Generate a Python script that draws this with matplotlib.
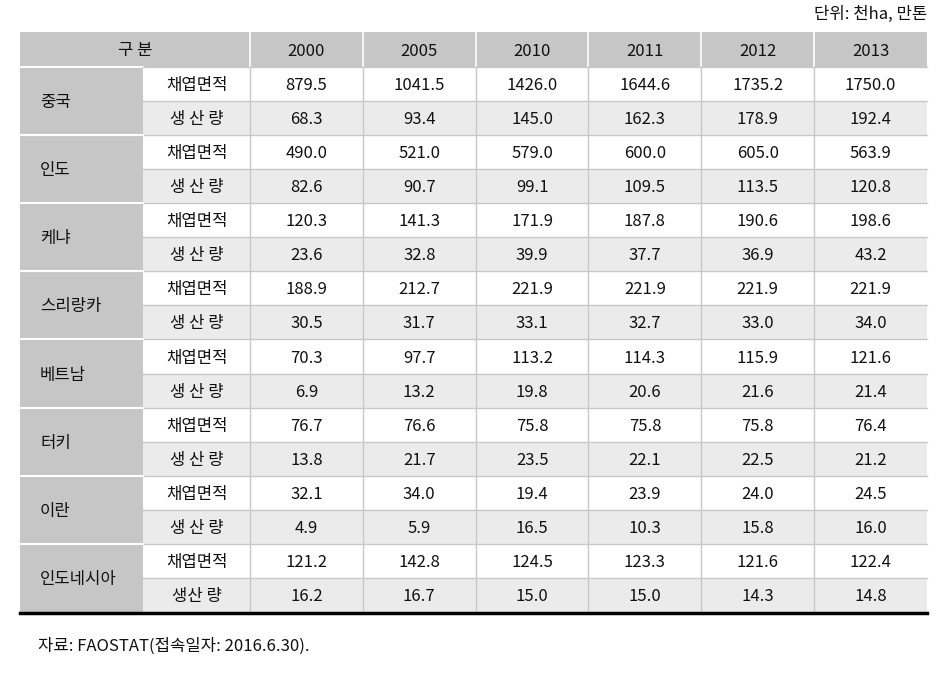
import matplotlib
matplotlib.use("Agg")
import matplotlib.pyplot as plt
from matplotlib.patches import Rectangle

plt.rcParams['font.family'] = ['Noto Sans CJK KR', 'DejaVu Sans']

years = ["2000", "2005", "2010", "2011", "2012", "2013"]
countries = ["중국", "인도", "케냐", "스리랑카", "베트남", "터키", "이란", "인도네시아"]
row_labels = ["채엽면적", "생 산 량"]
last_prod_label = "생산 량"

area = [
    [879.5, 1041.5, 1426.0, 1644.6, 1735.2, 1750.0],
    [490.0, 521.0, 579.0, 600.0, 605.0, 563.9],
    [120.3, 141.3, 171.9, 187.8, 190.6, 198.6],
    [188.9, 212.7, 221.9, 221.9, 221.9, 221.9],
    [70.3, 97.7, 113.2, 114.3, 115.9, 121.6],
    [76.7, 76.6, 75.8, 75.8, 75.8, 76.4],
    [32.1, 34.0, 19.4, 23.9, 24.0, 24.5],
    [121.2, 142.8, 124.5, 123.3, 121.6, 122.4],
]
production = [
    [68.3, 93.4, 145.0, 162.3, 178.9, 192.4],
    [82.6, 90.7, 99.1, 109.5, 113.5, 120.8],
    [23.6, 32.8, 39.9, 37.7, 36.9, 43.2],
    [30.5, 31.7, 33.1, 32.7, 33.0, 34.0],
    [6.9, 13.2, 19.8, 20.6, 21.6, 21.4],
    [13.8, 21.7, 23.5, 22.1, 22.5, 21.2],
    [4.9, 5.9, 16.5, 10.3, 15.8, 16.0],
    [16.2, 16.7, 15.0, 15.0, 14.3, 14.8],
]

unit_text = "단위: 천ha, 만톤"
source_text = "자료: FAOSTAT(접속일자: 2016.6.30)."

# layout in pixel units
W, H = 949, 688
left, col1, col2, right = 20, 143.5, 250, 927
top, head_h, row_h = 32, 35, 34.06
head_bottom = top + head_h
n_rows = 2 * len(countries)
bottom = head_bottom + n_rows * row_h
year_w = (right - col2) / len(years)

header_gray = "#c6c6c6"
alt_gray = "#ebebeb"
line_gray = "#c8c8c8"
fs = 12
dy = 1.5  # nudge text down a bit, CJK font sits high

fig = plt.figure(figsize=(W / 100, H / 100), dpi=100)
ax = fig.add_axes([0, 0, 1, 1])
ax.set_xlim(0, W)
ax.set_ylim(H, 0)
ax.axis("off")

def cell_text(x, y, s, ha="center"):
    ax.text(x, y + dy, s, ha=ha, va="center", fontsize=fs, color="#111111")

# header
ax.add_patch(Rectangle((left, top), right - left, head_h, color=header_gray, lw=0))
cell_text((left + col2) / 2, top + head_h / 2, "구 분")
for j, y in enumerate(years):
    x0 = col2 + j * year_w
    cell_text(x0 + year_w / 2, top + head_h / 2, y)
    if j > 0:
        ax.plot([x0, x0], [top, head_bottom], color="white", lw=1.2)
ax.plot([col2, col2], [top, head_bottom], color="white", lw=1.2)

# body
for i, country in enumerate(countries):
    g0 = head_bottom + 2 * i * row_h
    ax.add_patch(Rectangle((left, g0), col1 - left, 2 * row_h, color=header_gray, lw=0))
    cell_text(left + 20, g0 + row_h, country, ha="left")
    for k, vals in enumerate([area[i], production[i]]):
        r0 = g0 + k * row_h
        bg = "white" if k == 0 else alt_gray
        ax.add_patch(Rectangle((col1, r0), right - col1, row_h, color=bg, lw=0))
        label = row_labels[k]
        if k == 1 and i == len(countries) - 1:
            label = last_prod_label
        cell_text((col1 + col2) / 2, r0 + row_h / 2, label)
        for j, v in enumerate(vals):
            x0 = col2 + j * year_w
            cell_text(x0 + year_w / 2, r0 + row_h / 2, f"{v:.1f}")

# grid lines
for r in range(1, n_rows):
    y = head_bottom + r * row_h
    ax.plot([col1, right], [y, y], color=line_gray, lw=1)
for i in range(1, len(countries)):
    y = head_bottom + 2 * i * row_h
    ax.plot([left, col1], [y, y], color="white", lw=1.5)
ax.plot([left, col1], [head_bottom, head_bottom], color="white", lw=1.5)
ax.plot([col1, right], [head_bottom, head_bottom], color=line_gray, lw=1)
for j in range(len(years)):
    x0 = col2 + j * year_w
    ax.plot([x0, x0], [head_bottom, bottom], color=line_gray, lw=1)
ax.plot([left, right], [bottom + 1.5, bottom + 1.5], color="black", lw=2.5)

ax.text(right, 13 + dy, unit_text, ha="right", va="center", fontsize=fs, color="#111111")
ax.text(38, 645 + dy, source_text, ha="left", va="center", fontsize=fs, color="#111111")

fig.savefig("out.png", dpi=100)
